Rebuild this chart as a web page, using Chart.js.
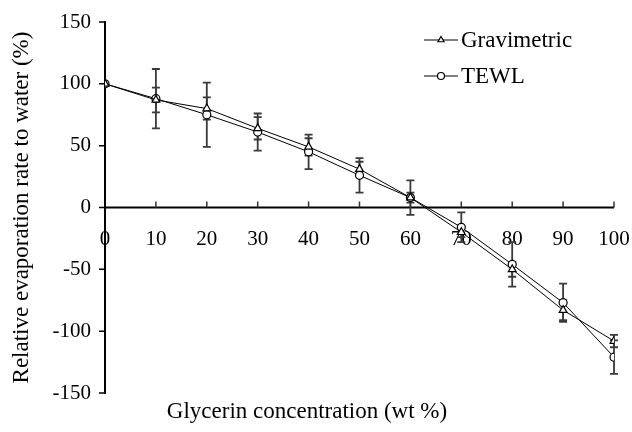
<!DOCTYPE html>
<html>
<head>
<meta charset="utf-8">
<script src="https://cdn.jsdelivr.net/npm/chart.js@4.4.1/dist/chart.umd.min.js"></script>
<style>
html,body{margin:0;padding:0;background:#fff;}
#wrap{width:632px;height:432px;position:relative;}
</style>
</head>
<body>
<div id="wrap"><canvas id="c" width="632" height="432"></canvas></div>
<script>
// ---- Data ----
const concentrations = [0, 10, 20, 30, 40, 50, 60, 70, 80, 90, 100];
const gravimetric    = [100, 87, 80, 64, 49, 31, 8, -20, -50, -83, -108];
const gravimetricErr = [0, 10, 9, 9, 7, 6, 4, 4, 6, 8, 5];
const tewl           = [100, 88, 75, 61, 45, 26, 8, -16, -46, -77, -121];
const tewlErr        = [0, 24, 26, 15, 14, 14, 14, 12, 18, 15.5, 13.5];
const seriesNames    = ['Gravimetric', 'TEWL'];
const xTitle = 'Glycerin concentration (wt %)';
const yTitle = 'Relative evaporation rate to water (%)';

const SERIF = '"Liberation Serif", "Times New Roman", serif';

function toPoints(xs, ys) { return xs.map((x, i) => ({x: x, y: ys[i]})); }

// Error bars drawn through the chart's scales
const errorBarPlugin = {
  id: 'errorBars',
  beforeDatasetsDraw(chart) {
    const {ctx, scales: {x, y}} = chart;
    ctx.save();
    ctx.strokeStyle = '#3a3a3a';
    ctx.lineWidth = 1.8;
    chart.data.datasets.forEach(ds => {
      const errs = ds.errors || [];
      ds.data.forEach((p, i) => {
        const e = errs[i];
        if (!e) return;
        const px = x.getPixelForValue(p.x);
        const pTop = y.getPixelForValue(p.y + e);
        const pBot = y.getPixelForValue(p.y - e);
        ctx.beginPath();
        ctx.moveTo(px, pTop); ctx.lineTo(px, pBot);
        ctx.moveTo(px - 4, pTop); ctx.lineTo(px + 4, pTop);
        ctx.moveTo(px - 4, pBot); ctx.lineTo(px + 4, pBot);
        ctx.stroke();
      });
    });
    ctx.restore();
  }
};

// Axis lines and tick marks (x axis crosses at y = 0, ticks pointing up)
const axesPlugin = {
  id: 'axesLines',
  beforeDatasetsDraw(chart) {
    const {ctx, scales: {x, y}} = chart;
    const x0 = x.getPixelForValue(x.min), x1 = x.getPixelForValue(x.max);
    const yT = y.getPixelForValue(y.max), yB = y.getPixelForValue(y.min), yZ = y.getPixelForValue(0);
    ctx.save();
    ctx.strokeStyle = '#000';
    ctx.lineWidth = 2;
    ctx.beginPath();
    ctx.moveTo(x0, yT - 1); ctx.lineTo(x0, yB + 1);
    ctx.moveTo(x0 - 1, yZ); ctx.lineTo(x1, yZ);
    ctx.stroke();
    ctx.lineWidth = 1.5;
    ctx.beginPath();
    y.ticks.forEach(t => {
      const py = y.getPixelForValue(t.value);
      ctx.moveTo(x0 - 6, py); ctx.lineTo(x0, py);
    });
    ctx.stroke();
    ctx.strokeStyle = '#333';
    ctx.beginPath();
    x.ticks.forEach(t => {
      if (t.value === x.min) return;
      const px = x.getPixelForValue(t.value);
      ctx.moveTo(px, yZ); ctx.lineTo(px, yZ - 6);
    });
    ctx.stroke();
    ctx.restore();
  }
};

// Legend: line + marker + label, top right inside the plot
const legendPlugin = {
  id: 'lineLegend',
  afterDraw(chart) {
    const {ctx} = chart;
    const rows = [40, 76];
    ctx.save();
    chart.data.datasets.forEach((ds, i) => {
      const yy = rows[i];
      ctx.strokeStyle = '#000';
      ctx.lineWidth = 1;
      ctx.beginPath(); ctx.moveTo(424, yy); ctx.lineTo(458, yy); ctx.stroke();
      ctx.fillStyle = '#fff';
      ctx.lineWidth = 1.2;
      Chart.helpers.drawPoint(ctx, {pointStyle: ds.pointStyle, radius: 3.5, borderWidth: 1.2, rotation: 0}, 441, yy);
      ctx.fillStyle = '#000';
      ctx.font = '23px ' + SERIF;
      ctx.textAlign = 'left';
      ctx.textBaseline = 'middle';
      ctx.fillText(ds.label, 461, yy + 1);
    });
    ctx.restore();
  }
};

const ctx = document.getElementById('c').getContext('2d');
new Chart(ctx, {
  type: 'line',
  data: {
    datasets: [
      {
        label: seriesNames[0],
        data: toPoints(concentrations, gravimetric),
        errors: gravimetricErr,
        borderColor: '#000',
        borderWidth: 1,
        pointStyle: 'triangle',
        pointRadius: 4.5,
        pointBorderWidth: 1.2,
        pointBorderColor: '#000',
        pointBackgroundColor: '#fff',
        tension: 0
      },
      {
        label: seriesNames[1],
        data: toPoints(concentrations, tewl),
        errors: tewlErr,
        borderColor: '#000',
        borderWidth: 1,
        pointStyle: 'circle',
        pointRadius: 4,
        pointBorderWidth: 1.2,
        pointBorderColor: '#000',
        pointBackgroundColor: '#fff',
        tension: 0
      }
    ]
  },
  options: {
    responsive: false,
    animation: false,
    events: [],
    layout: {padding: {left: 0, right: 18, top: 22, bottom: 6.4}},
    plugins: {
      legend: {display: false},
      tooltip: {enabled: false},
      title: {
        display: true,
        position: 'bottom',
        text: xTitle,
        color: '#000',
        font: {family: SERIF, size: 23, weight: 'normal'},
        padding: {top: 5, bottom: 0}
      }
    },
    scales: {
      x: {
        type: 'linear',
        position: {y: 0},
        min: 0, max: 100,
        grid: {display: false, drawTicks: false},
        border: {display: false},
        ticks: {stepSize: 10, color: '#000', padding: 19, font: {family: SERIF, size: 21}, maxRotation: 0, autoSkip: false},
        afterFit(scale) { scale.height = 0; scale.paddingLeft = 0; scale.paddingRight = 0; }
      },
      y: {
        type: 'linear',
        position: 'left',
        min: -150, max: 150,
        grid: {display: false, drawTicks: false},
        border: {display: false},
        ticks: {stepSize: 50, color: '#000', padding: 14, font: {family: SERIF, size: 21}},
        title: {display: true, text: yTitle, color: '#000', font: {family: SERIF, size: 23}, padding: {top: 8, bottom: 0}},
        afterFit(scale) { scale.width = 105; scale.paddingTop = 0; scale.paddingBottom = 0; }
      }
    }
  },
  plugins: [axesPlugin, errorBarPlugin, legendPlugin]
});
</script>
</body>
</html>
